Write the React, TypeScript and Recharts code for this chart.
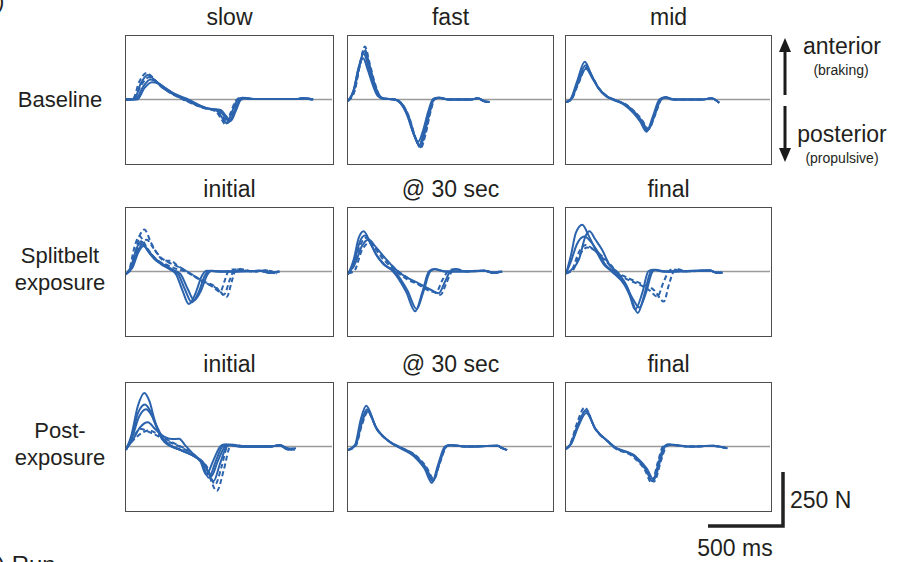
import { LineChart, Line, XAxis, YAxis, ReferenceLine } from "recharts";

type Trace = { t: number[]; f: number[]; dash?: boolean };

const BLUE = "#2b63ad";
const FONT = "'Liberation Sans', Arial, sans-serif";

// column titles per row
const rowTitles = [
  ["slow", "fast", "mid"],
  ["initial", "@ 30 sec", "final"],
  ["initial", "@ 30 sec", "final"],
];
const rowLabels = [["Baseline"], ["Splitbelt", "exposure"], ["Post-", "exposure"]];

// ---- Baseline ----
const baseSlow: Trace[] = [
  { t: [0, 55, 100, 147, 191, 236, 302, 391, 524, 613, 647, 680, 713, 750, 785, 850, 1150, 1200, 1260], f: [0, 1, 77, 116, 93, 62, 31, 0, -39, -54, -85, -113, -62, -3, 8, 2, 2, 6, 0] },
  { t: [0, 65, 115, 165, 210, 255, 320, 410, 540, 630, 665, 698, 730, 765, 800, 870, 1150, 1200, 1260], f: [0, 1, 60, 95, 82, 58, 28, 0, -40, -52, -80, -105, -58, -2, 7, 2, 2, 5, 0] },
  { t: [0, 45, 90, 140, 185, 230, 295, 385, 515, 605, 640, 672, 705, 742, 775, 840, 1150, 1200, 1255], f: [0, 1, 85, 125, 100, 66, 33, 0, -38, -56, -88, -118, -65, -4, 9, 2, 2, 7, -2], dash: true },
  { t: [0, 75, 125, 175, 220, 265, 330, 420, 550, 640, 675, 708, 740, 775, 810, 880, 1150, 1200, 1265], f: [0, 0, 55, 82, 75, 55, 26, 0, -42, -50, -78, -100, -55, -2, 6, 2, 2, 5, 0] },
  { t: [0, 50, 105, 155, 200, 245, 310, 400, 530, 620, 655, 688, 720, 758, 790, 860, 1150, 1205, 1260], f: [0, 2, 70, 105, 88, 60, 30, 0, -41, -55, -83, -110, -60, -3, 8, 2, 2, 6, 0], dash: true },
];
const baseFast: Trace[] = [
  { t: [0, 40, 73, 107, 140, 173, 207, 240, 318, 362, 407, 451, 484, 518, 551, 584, 618, 684, 840, 884, 929, 962], f: [-8, 46, 154, 216, 154, 77, 19, 5, 0, -19, -77, -170, -216, -154, -62, 3, 8, 0, 0, 6, -8, -12] },
  { t: [0, 45, 80, 115, 148, 180, 213, 245, 320, 368, 415, 460, 495, 528, 560, 592, 625, 690, 840, 884, 929, 965], f: [-6, 40, 160, 250, 170, 85, 22, 5, 0, -20, -80, -180, -230, -165, -65, 2, 8, 0, 0, 6, -8, -12], dash: true },
  { t: [0, 38, 70, 103, 135, 168, 202, 236, 315, 358, 402, 446, 478, 512, 546, 580, 614, 680, 840, 884, 929, 960], f: [-8, 44, 140, 195, 140, 70, 17, 4, 0, -18, -72, -160, -200, -145, -58, 3, 8, 0, 0, 6, -8, -12] },
  { t: [0, 42, 76, 110, 143, 176, 210, 243, 322, 366, 411, 455, 490, 523, 556, 588, 622, 688, 840, 884, 929, 962], f: [-8, 45, 150, 228, 160, 80, 20, 5, 0, -19, -78, -175, -222, -158, -63, 3, 8, 0, 0, 6, -8, -12] },
  { t: [0, 44, 78, 112, 146, 178, 212, 244, 320, 365, 413, 458, 494, 526, 558, 590, 624, 690, 840, 884, 929, 964], f: [-7, 42, 155, 238, 165, 82, 21, 5, 0, -20, -80, -178, -225, -160, -64, 2, 8, 0, 0, 6, -8, -12], dash: true },
];
const baseMid: Trace[] = [
  { t: [0, 33, 78, 133, 178, 222, 278, 322, 400, 467, 511, 555, 600, 644, 678, 733, 933, 989, 1044], f: [-12, 0, 77, 162, 108, 54, 15, 0, -23, -62, -100, -147, -77, 0, 11, 0, 0, 6, -15] },
  { t: [0, 30, 75, 128, 172, 216, 272, 316, 395, 460, 505, 548, 592, 636, 670, 725, 933, 989, 1044], f: [-12, 0, 85, 178, 118, 58, 16, 0, -24, -64, -104, -152, -80, 0, 11, 0, 0, 6, -15] },
  { t: [0, 36, 82, 138, 183, 228, 284, 328, 405, 472, 517, 562, 607, 650, 684, 740, 933, 989, 1044], f: [-12, 0, 70, 150, 102, 50, 14, 0, -22, -60, -96, -140, -74, 0, 10, 0, 0, 6, -15], dash: true },
  { t: [0, 34, 80, 136, 180, 225, 280, 325, 402, 470, 514, 560, 604, 648, 682, 738, 933, 989, 1044], f: [-12, 0, 74, 145, 100, 50, 14, 0, -23, -61, -98, -143, -75, 0, 10, 0, 0, 6, -15] },
];

// ---- Splitbelt exposure ----
const splitInitial: Trace[] = [
  { t: [0, 36, 69, 102, 147, 191, 236, 291, 336, 380, 424, 469, 513, 547, 636, 902, 969, 1035], f: [-15, 28, 105, 143, 97, 59, 35, 12, -11, -88, -154, -103, -19, 3, 0, 3, -6, 0] },
  { t: [0, 42, 78, 112, 158, 203, 250, 305, 352, 398, 444, 490, 533, 566, 650, 902, 969, 1035], f: [-12, 22, 95, 128, 90, 55, 32, 10, -12, -85, -146, -98, -18, 3, 0, 3, -6, 0] },
  { t: [0, 45, 82, 118, 165, 212, 262, 318, 368, 415, 460, 505, 548, 580, 660, 902, 969, 1035], f: [-10, 20, 88, 120, 85, 52, 30, 8, -12, -80, -136, -92, -16, 3, 0, 3, -6, 0] },
  { t: [0, 30, 69, 91, 124, 169, 213, 258, 302, 347, 413, 524, 613, 680, 713, 735, 769, 858, 947, 1013], f: [-10, 10, 105, 167, 198, 136, 82, 51, 51, 28, 0, -49, -80, -119, -49, 0, 12, 0, 5, -11], dash: true },
  { t: [0, 25, 55, 91, 135, 180, 230, 280, 330, 400, 500, 580, 636, 665, 690, 720, 858, 947, 1000], f: [-12, 15, 110, 167, 120, 75, 45, 30, 15, 0, -40, -70, -96, -45, 0, 10, 0, 4, -8], dash: true },
  { t: [0, 35, 75, 110, 140, 185, 230, 280, 330, 400, 520, 600, 660, 700, 725, 760, 858, 947, 1020], f: [-10, 12, 100, 140, 150, 110, 70, 45, 30, 5, -45, -70, -110, -40, 0, 10, 0, 5, -10], dash: true },
];
const split30: Trace[] = [
  { t: [0, 40, 73, 107, 151, 196, 240, 307, 396, 458, 507, 551, 584, 662, 929, 996, 1051], f: [-15, 59, 159, 190, 136, 74, 35, 0, -96, -188, -96, 0, 12, 0, 3, -6, 0] },
  { t: [0, 45, 80, 115, 160, 205, 250, 318, 405, 468, 516, 560, 592, 670, 929, 996, 1051], f: [-12, 50, 140, 170, 124, 68, 32, 0, -90, -178, -90, 0, 11, 0, 3, -6, 0] },
  { t: [0, 50, 95, 140, 190, 240, 290, 340, 420, 484, 560, 618, 660, 696, 729, 800, 929, 990, 1040], f: [-10, 40, 120, 151, 115, 74, 35, 0, -35, -57, -85, -103, -50, 0, 12, 0, 3, -6, 0] },
  { t: [0, 40, 95, 144, 195, 245, 295, 345, 425, 490, 570, 630, 670, 708, 740, 810, 929, 990, 1045], f: [-8, 0, 100, 136, 105, 68, 30, 0, -38, -62, -90, -110, -55, 0, 11, 0, 4, -6, 0], dash: true },
  { t: [0, 30, 80, 125, 175, 225, 280, 330, 410, 475, 550, 600, 640, 680, 712, 790, 929, 990, 1030], f: [-10, 10, 120, 160, 120, 70, 30, 0, -40, -60, -90, -98, -45, 0, 10, 0, 3, -6, 0], dash: true },
];
const splitFinal: Trace[] = [
  { t: [0, 33, 67, 111, 156, 200, 256, 311, 400, 444, 489, 533, 578, 600, 667, 978, 1030, 1067], f: [-11, 74, 182, 221, 167, 105, 35, 0, -65, -127, -196, -111, 0, 8, 0, 5, -6, -6] },
  { t: [0, 40, 89, 133, 160, 200, 244, 300, 344, 422, 471, 522, 560, 590, 660, 978, 1030, 1060], f: [-10, 10, 59, 167, 190, 151, 105, 28, 0, -80, -180, -96, 0, 8, 0, 5, -6, -5] },
  { t: [0, 35, 75, 125, 170, 215, 270, 325, 410, 456, 500, 545, 590, 612, 680, 978, 1030, 1067], f: [-10, 50, 130, 165, 140, 95, 30, 0, -70, -130, -170, -100, 0, 8, 0, 5, -6, -6] },
  { t: [0, 45, 95, 144, 195, 250, 300, 344, 420, 511, 600, 667, 700, 733, 756, 820, 978, 1030, 1067], f: [-8, 5, 80, 113, 100, 70, 35, 0, -30, -57, -88, -142, -65, 0, 12, 0, 5, -6, -6], dash: true },
  { t: [0, 40, 90, 135, 185, 240, 290, 335, 410, 500, 570, 622, 662, 700, 725, 800, 978, 1030, 1060], f: [-10, 8, 95, 125, 105, 70, 35, 0, -35, -62, -90, -119, -55, 0, 10, 0, 5, -6, -5], dash: true },
];

// ---- Post-exposure ----
const postInitial: Trace[] = [
  { t: [0, 36, 80, 124, 158, 191, 224, 258, 369, 447, 502, 542, 591, 636, 662, 769, 969, 1035, 1080, 1102], f: [-17, 52, 191, 253, 214, 130, 60, 22, -17, -40, -71, -133, -63, 0, 9, 0, 0, 6, -12, -17] },
  { t: [0, 38, 82, 128, 162, 195, 230, 265, 375, 455, 515, 558, 605, 650, 676, 780, 969, 1035, 1090, 1120], f: [-15, 45, 160, 199, 170, 110, 55, 20, -18, -45, -78, -148, -70, 0, 9, 0, 0, 6, -12, -15] },
  { t: [0, 40, 88, 135, 170, 205, 240, 275, 380, 465, 528, 575, 620, 668, 692, 790, 969, 1035, 1100, 1140], f: [-15, 40, 140, 176, 150, 100, 50, 20, -20, -48, -82, -140, -68, 0, 8, 0, 0, 6, -12, -15] },
  { t: [0, 45, 95, 147, 200, 260, 310, 358, 400, 460, 530, 591, 635, 680, 705, 800, 969, 1040, 1100, 1147], f: [-12, 30, 90, 114, 80, 45, 35, 37, 5, -40, -85, -164, -80, 0, 8, 0, 0, 5, -10, -8] },
  { t: [0, 40, 102, 150, 200, 260, 330, 400, 470, 540, 613, 660, 702, 725, 820, 969, 1040, 1100, 1130], f: [-10, 35, 83, 70, 55, 30, 10, -15, -45, -100, -210, -110, 0, 8, 0, 0, 6, -12, -15], dash: true },
  { t: [0, 50, 110, 158, 210, 270, 340, 410, 480, 545, 602, 645, 684, 710, 810, 969, 1035, 1090, 1120], f: [-10, 30, 65, 76, 60, 35, 10, -15, -50, -95, -179, -95, 0, 8, 0, 0, 6, -10, -14], dash: true },
];
const post30: Trace[] = [
  { t: [0, 51, 90, 129, 196, 284, 340, 462, 529, 578, 618, 667, 696, 800, 1018, 1050, 1084], f: [-17, 6, 110, 176, 83, 22, 0, -48, -102, -164, -86, 0, 6, 0, 3, -8, -17] },
  { t: [0, 48, 86, 124, 190, 278, 334, 455, 522, 572, 612, 660, 690, 800, 1018, 1050, 1084], f: [-17, 8, 125, 192, 92, 25, 0, -50, -105, -172, -90, 0, 7, 0, 3, -8, -17] },
  { t: [0, 54, 94, 134, 200, 290, 346, 468, 535, 585, 624, 673, 702, 800, 1018, 1050, 1084], f: [-17, 5, 100, 162, 78, 20, 0, -46, -98, -155, -82, 0, 6, 0, 3, -8, -17], dash: true },
  { t: [0, 52, 92, 131, 198, 287, 343, 465, 532, 582, 621, 670, 699, 800, 1018, 1050, 1084], f: [-17, 6, 105, 168, 80, 21, 0, -47, -100, -160, -84, 0, 6, 0, 3, -8, -17] },
];
const postFinal: Trace[] = [
  { t: [0, 33, 78, 133, 200, 289, 322, 467, 544, 589, 633, 667, 700, 844, 1000, 1100], f: [-12, 14, 99, 168, 83, 22, 0, -48, -110, -164, -71, 0, 9, 0, 3, -9] },
  { t: [0, 31, 75, 128, 195, 284, 318, 460, 538, 582, 626, 660, 694, 844, 1000, 1100], f: [-12, 16, 110, 185, 90, 24, 0, -50, -112, -170, -74, 0, 9, 0, 3, -9], dash: true },
  { t: [0, 35, 82, 138, 205, 294, 328, 473, 552, 598, 642, 676, 708, 844, 1000, 1100], f: [-12, 12, 92, 158, 78, 20, 0, -46, -106, -158, -68, 0, 8, 0, 3, -9] },
  { t: [0, 34, 80, 135, 202, 291, 325, 470, 548, 600, 648, 684, 712, 844, 1000, 1095], f: [-12, 13, 96, 172, 80, 21, 0, -47, -108, -166, -66, 0, 8, 0, 3, -8], dash: true },
];

const grid = [
  [baseSlow, baseFast, baseMid],
  [splitInitial, split30, splitFinal],
  [postInitial, post30, postFinal],
];

// layout
const COL_X = [125, 347, 565];
const COL_W = [209, 207, 207];
const ROW_Y = [35, 207, 382];
const PANEL_H = 130;

function Panel({ traces, left, top, width, height }: { traces: Trace[]; left: number; top: number; width: number; height: number }) {
  return (
    <div style={{ position: "absolute", left, top, width, height, border: "1.5px solid #4d4d4d", boxSizing: "border-box" }}>
      <LineChart width={width - 3} height={height - 3} margin={{ top: 0, right: 0, bottom: 0, left: 0 }}>
        <XAxis type="number" dataKey="t" domain={[0, 1390]} hide allowDataOverflow />
        <YAxis type="number" domain={[-300, 300]} hide allowDataOverflow />
        <ReferenceLine y={0} stroke="#9a9a9a" strokeWidth={1.5} />
        {traces.map((tr, i) => (
          <Line
            key={i}
            data={tr.t.map((t, j) => ({ t, f: tr.f[j] }))}
            dataKey="f"
            type="monotone"
            stroke={BLUE}
            strokeWidth={2}
            strokeDasharray={tr.dash ? "5 3" : undefined}
            dot={false}
            isAnimationActive={false}
          />
        ))}
      </LineChart>
    </div>
  );
}

export default function App() {
  return (
    <div style={{ position: "absolute", left: 0, top: 0, width: 902, height: 562, background: "#fff", overflow: "hidden", fontFamily: FONT }}>
      <svg width={902} height={562} style={{ position: "absolute", left: 0, top: 0 }}>
        <g fontFamily={FONT} fill="#231f20">
          <text x={-3} y={8} fontSize={22}>)</text>
          <text x={-3} y={573} fontSize={24}>) Run</text>
          {rowTitles.map((titles, r) =>
            titles.map((s, c) => (
              <text key={`${r}-${c}`} x={COL_X[c] + COL_W[c] / 2} y={ROW_Y[r] - 10} fontSize={23} textAnchor="middle">
                {s}
              </text>
            ))
          )}
          {rowLabels.map((lines, r) =>
            lines.map((s, k) => (
              <text
                key={`l${r}-${k}`}
                x={60}
                y={ROW_Y[r] + PANEL_H / 2 + 7 + (k - (lines.length - 1) / 2) * 27 - (lines.length - 1) * 3}
                fontSize={22}
                textAnchor="middle"
              >
                {s}
              </text>
            ))
          )}
          <text x={842} y={54} fontSize={23} textAnchor="middle">anterior</text>
          <text x={841} y={75} fontSize={14} textAnchor="middle">(braking)</text>
          <text x={842} y={142} fontSize={23} textAnchor="middle">posterior</text>
          <text x={842} y={163} fontSize={14} textAnchor="middle">(propulsive)</text>
          <text x={790} y={508} fontSize={23}>250 N</text>
          <text x={735} y={556} fontSize={23} textAnchor="middle">500 ms</text>
        </g>
        <g stroke="#1a1a1a" strokeWidth={3} fill="#1a1a1a">
          <line x1={785} y1={50} x2={785} y2={95} />
          <polygon points="779,52 791,52 785,38" stroke="none" />
          <line x1={785} y1={106} x2={785} y2={150} />
          <polygon points="779,148 791,148 785,162" stroke="none" />
        </g>
        <g stroke="#222" strokeWidth={3.5} fill="none">
          <polyline points="708,526 783,526 783,472" />
        </g>
      </svg>
      {grid.map((row, r) =>
        row.map((traces, c) => (
          <Panel key={`${r}-${c}`} traces={traces} left={COL_X[c]} top={ROW_Y[r]} width={COL_W[c]} height={PANEL_H} />
        ))
      )}
    </div>
  );
}
